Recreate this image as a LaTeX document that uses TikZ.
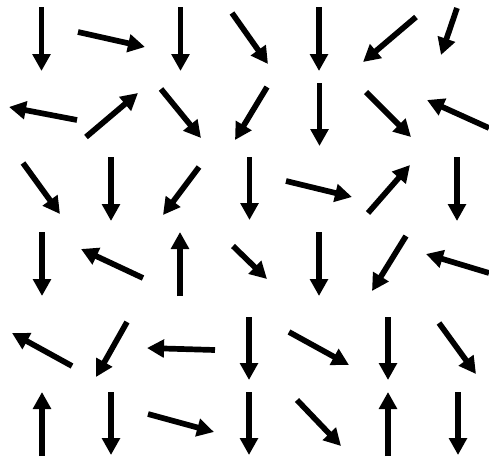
\documentclass[tikz,border=0pt]{standalone}
\usetikzlibrary{arrows.meta}
\begin{document}
\begin{tikzpicture}[x=1pt,y=-1pt,
  vec/.style={line width=5.7pt,-{Triangle[length=17pt,width=17.5pt]}}]
\useasboundingbox (0,0) rectangle (489,461);
\foreach \i/\a/\b/\c/\d in {
 % row 1
 a1/41.5/7/41.5/71, a2/78/32/145/47, a3/180.5/7/180.5/71, a4/232/13/268/64,
 a5/319/7/319/71, a6/416/17/363/62, a7/457/8/441/55,
 % row 2
 b1/77/120/9/107, b2/86/137/138/93, b3/161/89/201/138, b4/267/87/235/140,
 b5/319.5/83/319.5/146, b6/366/92/411/137, b7/489/128/427/100,
 % row 3
 c1/23/163/60/214, c2/111/157/111/221, c3/199/167/163/215, c4/249.5/157/249.5/220,
 c5/286/181/352/197, c6/368/213/410/165, c7/457/157/457/221,
 % row 4
 d1/42/232/42/296, d2/143/278/81/249, d3/180/296/180/232, d4/233/246/267/279,
 d5/319/232/319/296, d6/406/236/372/291, d7/489/273/426/254,
 % row 5
 e1/72/366/12/333, e2/127/322/96/377, e3/215/350/147/348, e4/249/317/249/380,
 e5/289/332/349/365, e6/388/317/388/380, e7/439/323/476/374,
 % row 6
 f1/42/456/42/392, f2/111/392/111/455, f3/148/414/214/432, f4/249/392/249/455,
 f5/297/400/341/446, f6/388/456/388/392, f7/458/392/458/455}
{
  \coordinate (t\i) at (\a,\b);
  \coordinate (h\i) at (\c,\d);
  \draw[vec] (t\i) -- (h\i);
}
\end{tikzpicture}
\end{document}
